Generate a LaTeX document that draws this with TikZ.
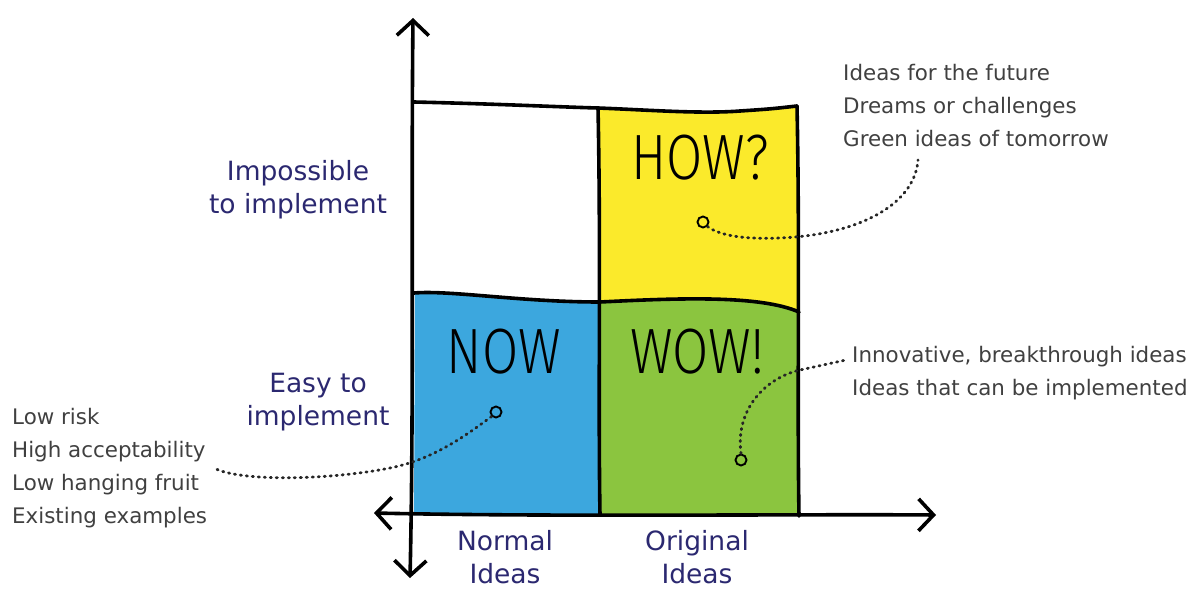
\documentclass[tikz,border=0pt]{standalone}
\usepackage{fontspec}
\setmainfont{DejaVu Sans}
\newfontfamily\bigfont{Fira Sans Light}
\newfontfamily\labfont{DejaVu Sans}
\newfontfamily\notefont{DejaVu Sans}
\usetikzlibrary{arrows.meta}
\definecolor{howyellow}{HTML}{FBEA2B}
\definecolor{nowblue}{HTML}{3CA7DE}
\definecolor{wowgreen}{HTML}{8BC53F}
\definecolor{navy}{HTML}{2B2870}
\definecolor{notegray}{HTML}{404040}
\begin{document}
\begin{tikzpicture}[x=1pt,y=-1pt,
  edge/.style={line width=3.6pt, line cap=round, line join=round},
  axisline/.style={line width=3.6pt, line cap=round, line join=round,
    {Straight Barb[length=15pt,width=32pt]}-{Straight Barb[length=15pt,width=32pt]}},
  dotline/.style={line width=2.8pt, line cap=round, dash pattern=on 1.2pt off 4.8pt, color=black!85},
  ring/.style={circle, draw, line width=1.9pt, minimum size=11pt, inner sep=0pt},
  big/.style={font=\bigfont\fontsize{64}{64}\selectfont, inner sep=0pt},
  lab/.style={font=\labfont\fontsize{26.5}{33}\selectfont, text=navy, align=center, inner sep=0pt},
  note/.style={font=\notefont\fontsize{21.4}{33}\selectfont, text=notegray, align=left, inner sep=0pt}
]
\useasboundingbox (0,0) rectangle (1197,594);

% quadrant fills
\fill[howyellow] (598,108) .. controls (650,110) and (700,114) .. (740,111)
  .. controls (770,109) .. (797,106) -- (799,312)
  .. controls (760,295) and (680,298) .. (600,302) -- cycle;
\fill[nowblue] (415,293) .. controls (450,290) and (520,302) .. (600,302)
  -- (600,515) -- (414,515) -- cycle;
\fill[wowgreen] (600,302) .. controls (680,298) and (760,295) .. (799,312)
  -- (799,516) -- (600,515) -- cycle;

% grid lines
\draw[edge] (414,102) .. controls (500,104) and (560,107) .. (598,108)
  .. controls (650,110) and (700,114) .. (740,111) .. controls (770,109) .. (797,106);
\draw[edge] (797,106) .. controls (800,250) and (797,400) .. (799,516);
\draw[edge] (598,108) .. controls (601,250) and (598,400) .. (600,515);
\draw[edge] (414,293) .. controls (450,290) and (520,302) .. (600,302)
  .. controls (680,298) and (760,295) .. (799,312);

% axes
\coordinate (ytop) at (413,18);
\coordinate (ybot) at (410,578);
\coordinate (xleft) at (374,513);
\coordinate (xright) at (936,515);
\draw[axisline] (ybot) .. controls (414,400) and (411,200) .. (ytop);
\draw[axisline] (xleft) .. controls (550,517) and (800,514) .. (xright);

% big words
\node[big] (how) at (700,158) {\scalebox{0.82}[1]{HOW?}};
\node[big] (now) at (504,352) {\scalebox{0.82}[1]{NOW}};
\node[big] (wow) at (697,352) {\scalebox{0.82}[1]{WOW!}};

% rings
\node[ring] (howring) at (703,222) {};
\node[ring] (nowring) at (496,412) {};
\node[ring] (wowring) at (741,460) {};

% axis labels
\node[lab] (imp) at (298,190) {Impossible\\to implement};
\node[lab] (easy) at (318,402) {Easy to\\implement};
\node[lab] (normal) at (505,557) {Normal\\Ideas};
\node[lab] (orig) at (697,557) {Original\\Ideas};

% notes
\node[note, anchor=north west] (futnote) at (843,64) {Ideas for the future\\Dreams or challenges\\Green ideas of tomorrow};
\node[note, anchor=north west] (wownote) at (852,346) {Innovative, breakthrough ideas\\Ideas that can be implemented};
\node[note, anchor=north west] (nownote) at (12,408) {Low risk\\High acceptability\\Low hanging fruit\\Existing examples};

\coordinate (futend) at (918,160);
\coordinate (wowend) at (846,360);
\coordinate (nowend) at (214,468);

% dotted connectors
\draw[dotline] (howring.south east) .. controls (725,240) and (770,240) .. (805,236)
  .. controls (870,228) and (915,200) .. (futend);
\draw[dotline] (nowring.south west) .. controls (460,440) and (430,460) .. (390,468)
  .. controls (330,480) and (240,482) .. (nowend);
\draw[dotline] (wowring.north) .. controls (735,410) and (765,378) .. (800,370)
  -- (wowend);
\end{tikzpicture}
\end{document}
